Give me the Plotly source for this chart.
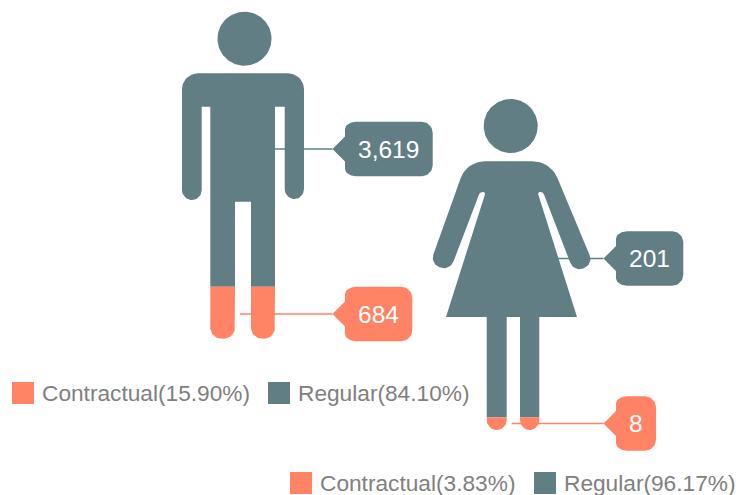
import plotly.graph_objects as go
import numpy as np

categories = ["Contractual", "Regular"]
men_values = [684, 3619]
women_values = [8, 201]
slate = "#617E84"
coral = "#FF8364"
gray = "#808080"


def rounded(verts, n=12):
    out = []
    m = len(verts)
    for i, (x, y, r) in enumerate(verts):
        p = np.array([x, y], float)
        if r == 0:
            out.append(tuple(p))
            continue
        a = np.array(verts[i - 1][:2], float)
        b = np.array(verts[(i + 1) % m][:2], float)
        ua = (a - p) / np.linalg.norm(a - p)
        ub = (b - p) / np.linalg.norm(b - p)
        r1 = min(r, np.linalg.norm(a - p) / 2)
        r2 = min(r, np.linalg.norm(b - p) / 2)
        s, e = p + ua * r1, p + ub * r2
        w = np.sin(np.arccos(np.clip(ua @ ub, -1, 1)) / 2)
        for t in np.linspace(0, 1, n):
            c0, c1, c2 = (1 - t) ** 2, 2 * t * (1 - t) * w, t ** 2
            out.append(tuple((c0 * s + c1 * p + c2 * e) / (c0 + c1 + c2)))
    return out


def clip(poly, level, keep_below):
    inside = (lambda y: y >= level) if keep_below else (lambda y: y <= level)
    out = []
    for i in range(len(poly)):
        a, b = poly[i - 1], poly[i]
        if inside(a[1]) != inside(b[1]):
            t = (level - a[1]) / (b[1] - a[1])
            out.append((a[0] + t * (b[0] - a[0]), level))
        if inside(b[1]):
            out.append(b)
    return out


def area(fig, poly, color):
    xs, ys = zip(*poly)
    fig.add_trace(go.Scatter(x=list(xs) + [xs[0]], y=list(ys) + [ys[0]], mode="lines", fill="toself",
                             fillcolor=color, line=dict(width=0, color=color), hoverinfo="skip", showlegend=False))


def circle(cx, cy, r):
    t = np.linspace(0, 2 * np.pi, 90)
    return list(zip(cx + r * np.cos(t), cy + r * np.sin(t)))


man_body = rounded([(182, 73.3, 16), (304, 73.3, 16), (304, 199, 10), (284.7, 199, 10), (284.7, 106.7, 0),
                    (275, 106.7, 0), (275, 338.7, 11), (251, 338.7, 11), (251, 201.7, 0), (235, 201.7, 0),
                    (235, 338.7, 11), (210.3, 338.7, 11), (210.3, 106.7, 0), (201.7, 106.7, 0),
                    (201.7, 200, 10), (182, 200, 10)])
woman_body = rounded([(466.7, 161.3, 18), (550.5, 161.3, 18), (593.5, 264.4, 10), (573.9, 272.2, 10),
                      (543, 192, 2.5), (537.5, 192, 2.5), (577, 317, 0), (539.3, 317, 0), (539.3, 430, 10),
                      (520, 430, 10), (520, 317, 0), (506.7, 317, 0), (506.7, 430, 10), (486.7, 430, 10),
                      (486.7, 317, 0), (446, 317, 0), (485.7, 192, 2.5), (480, 192, 2.5),
                      (449.9, 270.9, 10), (430, 263.9, 10)])

fig = go.Figure()
annots = []


def figure_person(body, head, top, bottom, values):
    share = values[0] / sum(values)
    level = bottom - (bottom - top) * share
    area(fig, circle(*head), slate)
    area(fig, clip(body, level, False), slate)
    area(fig, clip(body, level, True), coral)
    return share


def callout(x0, x1, yc, lead_from, value, color):
    tip = x0 - 12.5
    y0, y1 = yc - 27.2, yc + 27.2
    area(fig, rounded([(x0, y0, 11), (x1, y0, 11), (x1, y1, 11), (x0, y1, 11), (x0, yc + 12.5, 0),
                       (tip, yc, 0), (x0, yc - 12.5, 0)]), color)
    fig.add_trace(go.Scatter(x=[lead_from, tip], y=[yc, yc], mode="lines", line=dict(color=color, width=1.6),
                             hoverinfo="skip", showlegend=False))
    annots.append(dict(x=(x0 + x1) / 2, y=yc, text=f"{value:,}", showarrow=False, xanchor="center", yanchor="middle",
                       font=dict(color="white", size=24.5, family="Liberation Sans")))


def legend_item(sx, y, name, share, color):
    fig.add_trace(go.Scatter(x=[sx + 11], y=[y], mode="markers", marker=dict(symbol="square", size=22, color=color),
                             hoverinfo="skip", showlegend=False))
    annots.append(dict(x=sx + 30, y=y, text=f"{name}({share * 100:.2f}%)", showarrow=False, xanchor="left",
                       yanchor="middle", font=dict(color=gray, size=22.7, family="Liberation Sans"), xshift=-2))


s_m = figure_person(man_body, (244.5, 38.7, 27), 12, 338.7, men_values)
s_w = figure_person(woman_body, (510.7, 126, 27), 99, 430, women_values)

callout(345, 432.7, 149, 275, men_values[1], slate)
callout(345, 412.3, 314, 240, men_values[0], coral)
callout(616, 683.3, 258.5, 558, women_values[1], slate)
callout(616, 656, 423.5, 511.7, women_values[0], coral)

legend_item(12, 393, categories[0], s_m, coral)
legend_item(268, 393, categories[1], 1 - s_m, slate)
legend_item(290, 483, categories[0], s_w, coral)
legend_item(534, 483, categories[1], 1 - s_w, slate)

fig.update_layout(width=752, height=495, margin=dict(l=0, r=0, t=0, b=0), paper_bgcolor="white",
                  plot_bgcolor="white", showlegend=False, annotations=annots,
                  xaxis=dict(range=[0, 752], visible=False, fixedrange=True),
                  yaxis=dict(range=[495, 0], visible=False, fixedrange=True))
fig.write_html("out.html", config=dict(displayModeBar=False),
               post_script="document.body.style.margin='0';document.documentElement.style.overflow='hidden';")
